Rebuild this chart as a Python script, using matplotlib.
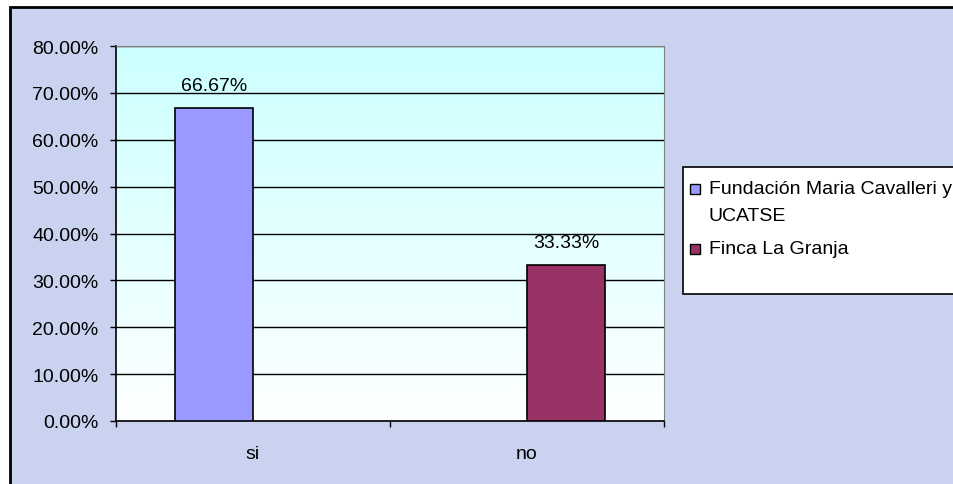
import numpy as np
import matplotlib.pyplot as plt
from matplotlib.patches import Rectangle
from matplotlib.ticker import PercentFormatter, FixedLocator

plt.rcParams['font.family'] = ['Liberation Sans', 'DejaVu Sans']

# Data
categories = ['si', 'no']
series_names = ['Fundación Maria Cavalleri y\nUCATSE', 'Finca La Granja']
series_values = [
    [66.67, 0.0],   # Fundación Maria Cavalleri y UCATSE
    [0.0, 33.33],   # Finca La Granja
]
series_colors = ['#9999FF', '#993366']
y_ticks = [0, 10, 20, 30, 40, 50, 60, 70, 80]

W, H = 954, 485
FS = 14
fig = plt.figure(figsize=(W / 100, H / 100), dpi=100)
fig.patch.set_facecolor('white')

# Chart area background with frame (runs past the right/bottom edges)
bg = Rectangle((10 / W, -0.05), 1.0, 1 - 8 / H + 0.05, transform=fig.transFigure,
               facecolor='#C9D3F0', edgecolor='black', linewidth=2, zorder=-5)
fig.patches.append(bg)

# Plot area
ax = fig.add_axes([116 / W, 1 - 422 / H, (664 - 116) / W, (422 - 47) / H])
ax.set_facecolor('white')
ax.set_zorder(1)

# Gradient fill: cyan at top to white at bottom
grad = np.linspace(0, 1, 256).reshape(-1, 1)
top = np.array([0xCC, 0xFF, 0xFF]) / 255
bot = np.array([1.0, 1.0, 1.0])
img = bot + (top - bot) * grad[::-1] ** 0.9
ax.imshow(img.reshape(256, 1, 3), extent=[0, 1, 0, 1], transform=ax.transAxes,
          aspect='auto', zorder=0, origin='upper')

n = len(series_values)
bar_w = 1 / (n + 1.5)  # Excel gap width 150%
x = np.arange(len(categories))

for i, (vals, col) in enumerate(zip(series_values, series_colors)):
    offs = (i - (n - 1) / 2) * bar_w
    for xi, v in zip(x, vals):
        if v <= 0:
            continue
        ax.bar(xi + offs, v, width=bar_w, color=col, edgecolor='black',
               linewidth=1.2, zorder=3)
        ax.text(xi + offs, v + 3.0, f'{v:.2f}%', ha='center', va='bottom',
                fontsize=FS, color='black', zorder=4)

ax.set_xlim(-0.5, len(categories) - 0.5)
ax.set_ylim(0, 80)

ax.set_yticks(y_ticks)
ax.yaxis.set_major_formatter(PercentFormatter(decimals=2))
ax.yaxis.grid(True, color='black', linewidth=1)
ax.set_axisbelow(True)
for line in ax.get_ygridlines():
    line.set_zorder(1)

ax.set_xticks(x)
ax.set_xticklabels(categories)
ax.xaxis.set_minor_locator(FixedLocator(np.arange(len(categories) + 1) - 0.5))
ax.tick_params(axis='x', which='major', length=0, pad=17, labelsize=FS)
ax.tick_params(axis='x', which='minor', length=4.5, width=1, direction='out')
ax.tick_params(axis='y', length=4.5, width=1, direction='out', pad=8, labelsize=FS)

ax.spines['left'].set_color('black')
ax.spines['bottom'].set_color('black')
ax.spines['left'].set_linewidth(1.2)
ax.spines['bottom'].set_linewidth(1.2)
ax.spines['top'].set_color('#808080')
ax.spines['right'].set_color('#808080')

# Legend box (extends past the right edge), entries drawn by hand so the
# marker lines up with the first text line like in Excel
lg_box = Rectangle((683 / W, 1 - 295 / H), 0.4, 127 / H, transform=fig.transFigure,
                   facecolor='white', edgecolor='black', linewidth=1.2, zorder=2)
fig.patches.append(lg_box)

y_px = 190
for name, col in zip(series_names, series_colors):
    mk = Rectangle((690 / W, 1 - (y_px + 5) / H), 10 / W, 10 / H,
                   transform=fig.transFigure, facecolor=col, edgecolor='black',
                   linewidth=1, zorder=3)
    fig.patches.append(mk)
    for k, line_txt in enumerate(name.split('\n')):
        fig.text(709 / W, 1 - y_px / H, line_txt, fontsize=FS, ha='left',
                 va='center', zorder=3)
        y_px += 27
    y_px += 6

fig.savefig('out.png', dpi=100)
